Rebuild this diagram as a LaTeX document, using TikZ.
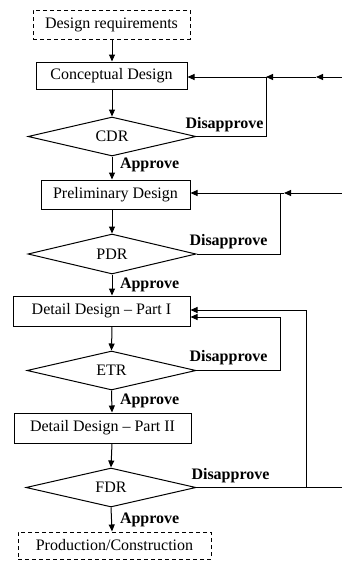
\documentclass[tikz,border=0pt]{standalone}
\usepackage{fontspec}
\setmainfont{Liberation Serif}
\usetikzlibrary{shapes.geometric,arrows.meta}
\begin{document}
\begin{tikzpicture}[x=1pt,y=-1pt,
  font=\fontsize{16}{19}\selectfont,
  every path/.style={line width=1pt},
  box/.style={draw, rectangle, inner sep=0pt, line width=1pt},
  dbox/.style={box, dash pattern=on 4pt off 3pt},
  diam/.style={draw, diamond, aspect=4.3, inner sep=0pt, line width=1pt},
  arr/.style={-{Triangle[length=7pt,width=6pt]}},
  lbl/.style={font=\fontsize{16}{19}\selectfont\bfseries, inner sep=0pt, anchor=base west}]
\useasboundingbox (0,0) rectangle (342,563);
% nodes
\node[dbox, minimum width=157pt, minimum height=29pt] (dr) at (111.5,24.5) {Design requirements};
\node[box, minimum width=151pt, minimum height=27pt] (cd) at (111.5,75.5) {Conceptual Design};
\node[diam, minimum width=168pt, minimum height=39pt] (cdr) at (112,136.5) {CDR};
\node[box, minimum width=149pt, minimum height=29pt] (pd) at (115.5,194.5) {Preliminary Design};
\node[diam, minimum width=168pt, minimum height=40pt] (pdr) at (112,254) {PDR};
\node[box, minimum width=177pt, minimum height=30pt] (dd1) at (101.5,311) {Detail Design -- Part I};
\node[diam, minimum width=169pt, minimum height=39pt] (etr) at (111.5,370.5) {ETR};
\node[box, minimum width=177pt, minimum height=30pt] (dd2) at (102.5,428) {Detail Design -- Part II};
\node[diam, minimum width=170pt, minimum height=39pt] (fdr) at (111,487.5) {FDR};
\node[dbox, minimum width=193pt, minimum height=27pt] (pc) at (114.5,545.5) {Production/Construction};
% main flow
\draw[arr] (112,0 |- dr.south) -- (112,0 |- cd.north);
\draw[arr] (112,0 |- cd.south) -- (cdr.north);
\draw[arr] (cdr.south) -- (112,0 |- pd.north);
\draw[arr] (112,0 |- pd.south) -- (pdr.north);
\draw[arr] (pdr.south) -- (112,0 |- dd1.north);
\draw[arr] (112,0 |- dd1.south) -- (etr.north);
\draw[arr] (etr.south) -- (112,0 |- dd2.north);
\draw[arr] (112,0 |- dd2.south) -- (fdr.north);
\draw[arr] (fdr.south) -- (112,0 |- pc.north);
% labels
\node[lbl] (d1) at (185,128.5) {Disapprove};
\node[lbl] (d2) at (189,245) {Disapprove};
\node[lbl] (d3) at (189,361) {Disapprove};
\node[lbl] (d4) at (191,479) {Disapprove};
\node[lbl] (a1) at (119.5,168) {Approve};
\node[lbl] (a2) at (119.5,288) {Approve};
\node[lbl] (a3) at (119.5,404) {Approve};
\node[lbl] (a4) at (119.5,523) {Approve};
% feedback 1
\coordinate (in1) at (342,77);
\coordinate (m1) at (316,77);
\coordinate (j1) at (266,77);
\draw[arr] (in1) -- (m1);
\draw[arr] (m1) -- (j1);
\draw (cdr.east) -| (j1);
\draw[arr] (j1) -- (cd.east |- j1);
% feedback 2
\coordinate (in2) at (342,193);
\coordinate (m2) at (284,193);
\coordinate (j2) at (280,193);
\draw[arr] (in2) -- (m2);
\draw (pdr.east) -| (j2);
\draw[arr] (m2) -- (pd.east |- m2);
% feedback 3 (ETR)
\coordinate (j3) at (280,317);
\draw (etr.east) -| (j3);
\draw[arr] (j3) -- (dd1.east |- j3);
% feedback 4 (FDR)
\coordinate (out4) at (342,487.5);
\coordinate (j4) at (306,487.5);
\coordinate (t4) at (306,310);
\draw (fdr.east) -- (out4);
\draw (j4) -- (t4);
\draw[arr] (t4) -- (dd1.east |- t4);
\end{tikzpicture}
\end{document}
